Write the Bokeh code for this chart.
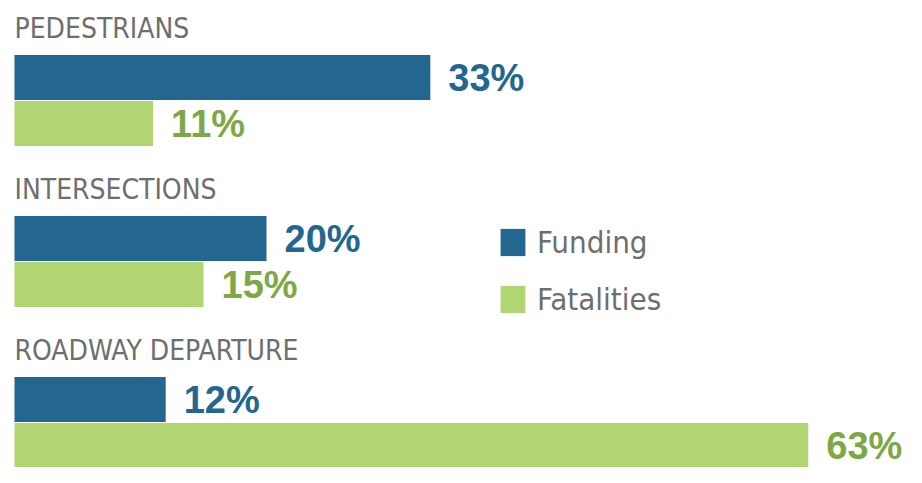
from bokeh.plotting import figure
from bokeh.models import Range1d, ColumnDataSource, Legend, LegendItem
from bokeh.core.properties import value
from bokeh.embed import file_html
from bokeh.resources import INLINE

categories = ["PEDESTRIANS", "INTERSECTIONS", "ROADWAY DEPARTURE"]
funding = [33, 20, 12]
fatalities = [11, 15, 63]
series_names = ["Funding", "Fatalities"]

BLUE = "#23668f"
GREEN = "#b0d572"
GREEN_TXT = "#7ea845"
GRAY = "#6e6e6e"
NARROW = "'Liberation Sans Narrow', 'DejaVu Sans Condensed', 'Roboto Condensed', sans-serif"

W, H = 906, 467
px_per_pct = 12.6
x0_px = 14
group_px = 161.0
first_px = 77.0

xs = -x0_px / px_per_pct
xe = (W - x0_px) / px_per_pct
ys = -first_px / group_px
ye = (H - first_px) / group_px

p = figure(width=W, height=H, output_backend="svg", toolbar_location=None,
           x_range=Range1d(xs, xe), y_range=Range1d(ye, ys),
           min_border=0, min_border_left=0, min_border_right=0,
           min_border_top=0, min_border_bottom=0)
p.axis.visible = False
p.grid.visible = False
p.outline_line_color = None
p.background_fill_color = "white"
p.border_fill_color = "white"

bar_h = 45 / group_px
off2 = 46 / group_px
label_off = -49 / group_px

idx = list(range(len(categories)))
src_f = ColumnDataSource(dict(y=[i for i in idx], v=funding,
                              t=[f"{v}%" for v in funding]))
src_g = ColumnDataSource(dict(y=[i + off2 for i in idx], v=fatalities,
                              t=[f"{v}%" for v in fatalities]))
src_c = ColumnDataSource(dict(y=[i + label_off for i in idx], x=[0] * len(idx),
                              t=categories))

rf = p.hbar(y="y", right="v", left=0, height=bar_h, source=src_f,
            fill_color=BLUE, line_color=None)
rg = p.hbar(y="y", right="v", left=0, height=bar_h, source=src_g,
            fill_color=GREEN, line_color=None)

p.text(x="v", y="y", text="t", source=src_f, x_offset=18,
       text_baseline="middle", text_align="left", text_color=BLUE,
       text_font=value("Liberation Sans"), text_font_style="bold",
       text_font_size="38px")
p.text(x="v", y="y", text="t", source=src_g, x_offset=18,
       text_baseline="middle", text_align="left", text_color=GREEN_TXT,
       text_font=value("Liberation Sans"), text_font_style="bold",
       text_font_size="38px")
p.text(x="x", y="y", text="t", source=src_c, x_offset=0,
       text_baseline="middle", text_align="left", text_color=GRAY,
       text_font=value(NARROW), text_font_size="28px")

legend = Legend(items=[LegendItem(label=series_names[0], renderers=[rf]),
                       LegendItem(label=series_names[1], renderers=[rg])],
                location=(497, 150), glyph_width=31, glyph_height=34,
                label_standoff=9, spacing=21, padding=0, margin=0,
                border_line_alpha=0, background_fill_alpha=0,
                label_text_font=NARROW, label_text_font_size="31px",
                label_text_color=GRAY)
p.add_layout(legend, "center")

open("out.html", "w").write(file_html(p, INLINE))
